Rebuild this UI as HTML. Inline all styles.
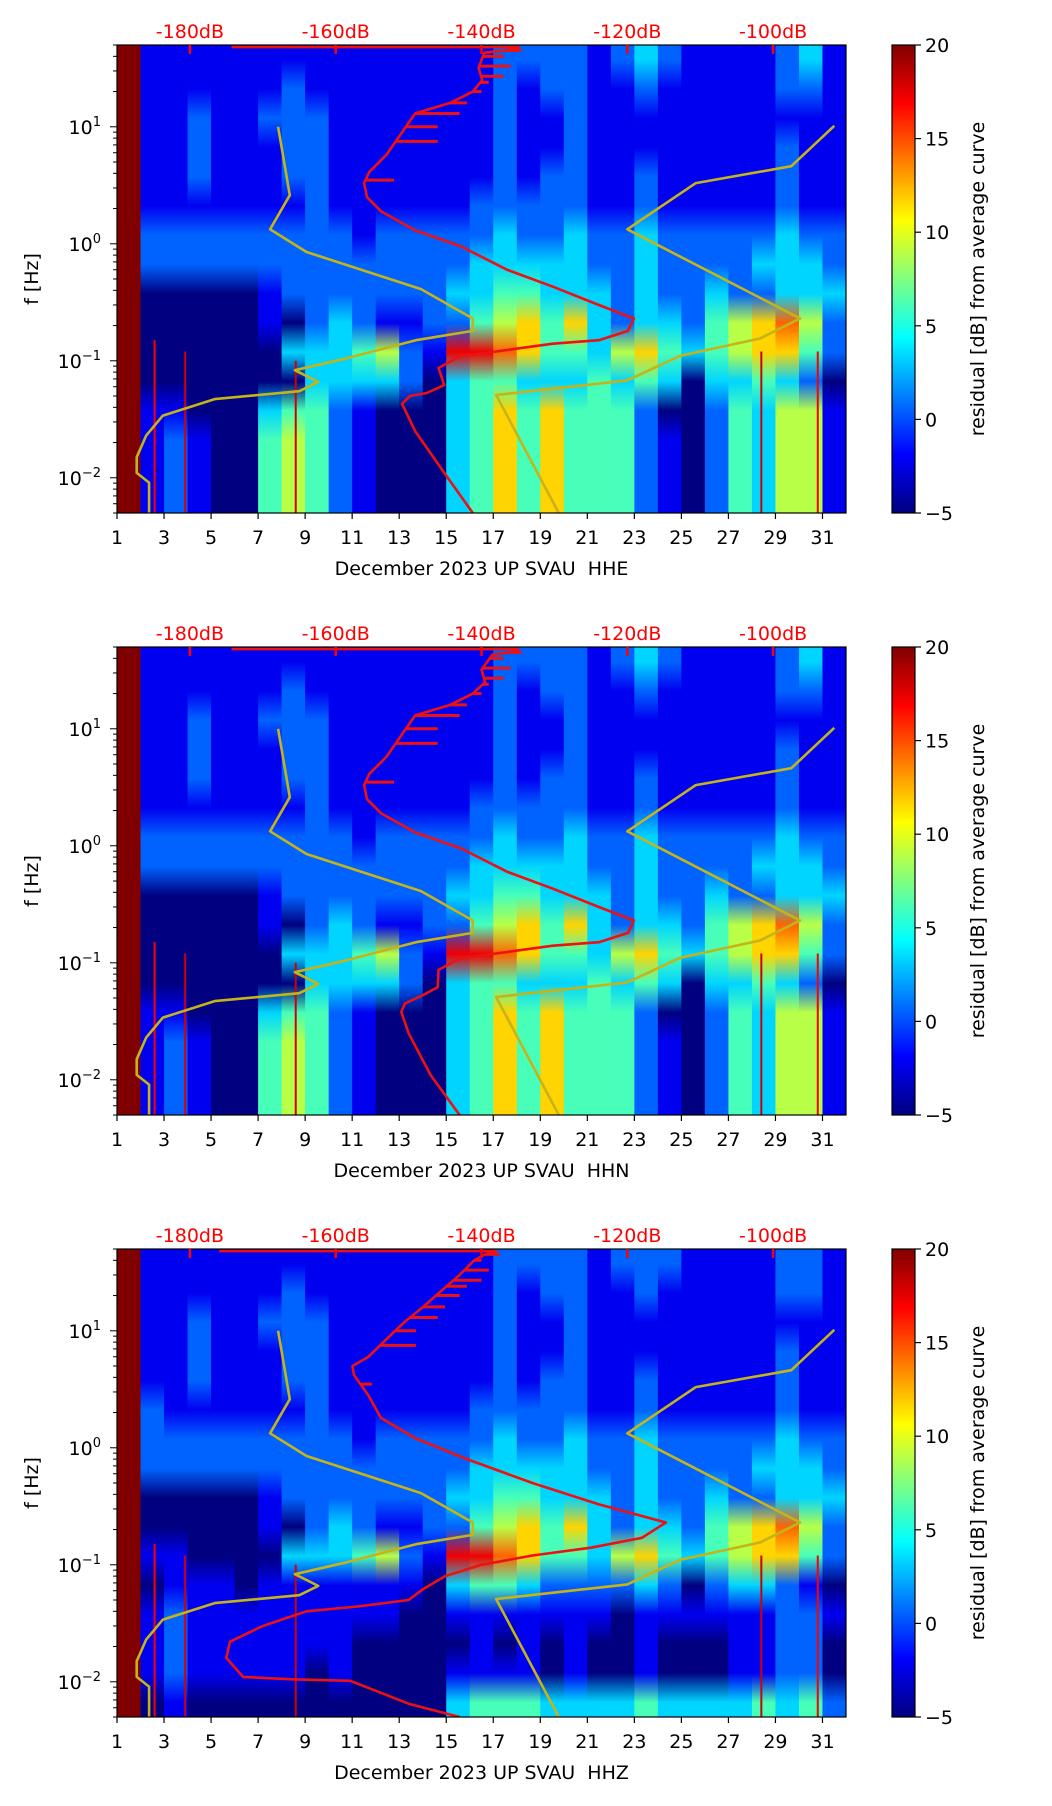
<!DOCTYPE html>
<html><head><meta charset="utf-8">
<style>
html,body{margin:0;padding:0;background:#fff;}
svg{display:block;font-family:"DejaVu Sans","Liberation Sans",sans-serif;}
</style></head>
<body>
<svg id="fig" width="1052" height="1806" viewBox="0 0 1052 1806" xmlns="http://www.w3.org/2000/svg">
<defs id="defs"></defs>
</svg>
<script>
// ---------------- DATA ----------------
const days = [1,3,5,7,9,11,13,15,17,19,21,23,25,27,29,31];
const dbTicks = [-180,-160,-140,-120,-100];
const cbTicks = [-5,0,5,10,15,20];
const yTickExp = [1,0,-1,-2];
const channels = ["HHE","HHN","HHZ"];

// residual grid rows (top = 50 Hz ... bottom = 0.005 Hz, 0.25 decade each), one value per day 1..31, digit 0..9 -> -5..20 dB
const gridHHE = [
"9 1 1 1 1 1 1 1 1 1 1 1 1 1 1 1 2 2 2 2 1 2 3 2 1 1 1 1 2 3 1",
"9 1 1 1 1 1 1 2 1 1 1 1 1 1 1 1 2 1 2 2 1 1 2 1 1 1 1 1 2 2 1",
"9 1 1 2 1 1 2 2 2 1 1 1 1 1 1 1 2 1 1 2 1 1 1 1 1 1 1 1 1 1 1",
"9 1 1 2 1 1 1 2 2 1 1 1 1 1 1 1 2 1 1 2 1 1 1 1 1 1 1 1 2 1 1",
"9 1 1 2 1 1 1 2 2 1 1 1 1 1 1 1 2 1 2 2 1 1 2 1 1 1 1 1 2 1 1",
"9 1 1 1 1 1 1 1 2 1 1 1 1 1 1 2 2 2 2 2 1 1 2 1 1 1 1 1 2 1 1",
"9 2 2 2 2 2 2 2 2 2 1 2 2 2 2 2 3 2 2 3 2 2 3 2 2 2 2 2 3 2 2",
"9 2 2 2 2 2 2 2 2 2 2 2 2 2 2 3 3 3 3 3 2 2 3 2 2 2 2 3 3 3 2",
"9 0 0 0 0 0 1 2 2 2 2 2 2 2 3 3 4 4 3 3 3 2 3 2 2 3 2 2 3 3 3",
"9 0 0 0 0 0 1 0 2 3 2 1 1 2 2 4 5 6 4 6 3 2 3 3 2 4 5 6 7 5 2",
"9 0 0 0 0 0 0 3 3 3 4 5 2 1 8 8 7 6 4 4 3 5 6 4 3 4 5 6 6 4 2",
"9 0 0 0 0 0 0 0 3 3 3 3 2 0 3 4 4 3 3 3 4 3 4 3 0 3 3 4 3 2 0",
"9 1 1 0 0 0 3 4 4 2 1 0 0 0 3 4 6 4 6 4 4 4 2 0 0 2 4 3 5 5 1",
"9 1 2 1 0 0 4 5 4 2 1 0 0 0 3 4 6 4 6 4 4 4 2 1 0 2 4 3 5 5 1",
"9 1 2 1 0 0 4 5 4 2 1 0 0 0 3 4 6 4 6 4 4 4 2 1 0 2 4 3 5 5 1",
"9 1 2 1 0 0 4 5 4 2 1 0 0 0 3 4 6 4 6 4 4 4 2 1 0 2 4 3 5 5 1"
];
const gridHHN = [
"9 1 1 1 1 1 1 1 1 1 1 1 1 1 1 1 2 2 2 2 1 2 3 2 1 1 1 1 2 3 1",
"9 1 1 1 1 1 1 2 1 1 1 1 1 1 1 1 2 1 2 2 1 1 2 1 1 1 1 1 2 2 1",
"9 1 1 2 1 1 2 2 2 1 1 1 1 1 1 1 2 1 1 2 1 1 1 1 1 1 1 1 1 1 1",
"9 1 1 2 1 1 1 2 2 1 1 1 1 1 1 1 2 1 1 2 1 1 1 1 1 1 1 1 2 1 1",
"9 1 1 2 1 1 1 2 2 1 1 1 1 1 1 1 2 1 2 2 1 1 2 1 1 1 1 1 2 1 1",
"9 1 1 1 1 1 1 1 2 1 1 1 1 1 1 2 2 2 2 2 1 1 2 1 1 1 1 1 2 1 1",
"9 2 2 2 2 2 2 2 2 2 1 2 2 2 2 2 3 2 2 3 2 2 3 2 2 2 2 2 3 2 2",
"9 2 2 2 2 2 2 2 2 2 2 2 2 2 2 3 3 3 3 3 2 2 3 2 2 2 2 3 3 3 2",
"9 0 0 0 0 0 1 2 2 2 2 2 2 2 3 3 4 4 3 3 3 2 3 2 2 3 2 2 3 3 3",
"9 0 0 0 0 0 1 0 2 3 2 1 1 2 2 4 5 6 4 6 3 2 3 3 2 4 5 6 7 5 2",
"9 0 0 0 0 0 0 3 3 3 4 5 2 1 8 8 7 6 4 4 3 5 6 4 3 4 5 6 6 4 2",
"9 0 0 0 0 0 0 0 3 3 3 3 2 0 3 4 4 3 3 3 4 3 4 3 0 3 3 4 3 2 0",
"9 1 1 0 0 0 3 4 4 2 1 0 0 0 3 4 6 4 6 4 4 4 2 0 0 2 4 3 5 5 1",
"9 1 2 1 0 0 4 5 4 2 1 0 0 0 3 4 6 4 6 4 4 4 2 1 0 2 4 3 5 5 1",
"9 1 2 1 0 0 4 5 4 2 1 0 0 0 3 4 6 4 6 4 4 4 2 1 0 2 4 3 5 5 1",
"9 1 2 1 0 0 4 5 4 2 1 0 0 0 3 4 6 4 6 4 4 4 2 1 0 2 4 3 5 5 1"
];
const gridHHZ = [
"9 1 1 1 1 1 1 1 1 1 1 1 1 1 1 1 2 2 2 2 1 2 2 2 1 1 1 1 2 2 1",
"9 1 1 1 1 1 1 2 1 1 1 1 1 1 1 1 2 1 2 2 1 1 2 1 1 1 1 1 2 2 1",
"9 1 1 2 1 1 2 2 2 1 1 1 1 1 1 1 2 1 1 2 1 1 1 1 1 1 1 1 1 1 1",
"9 1 1 2 1 1 1 2 2 1 1 1 1 1 1 1 2 1 1 2 1 1 1 1 1 1 1 1 2 1 1",
"9 1 1 2 1 1 1 2 2 1 1 1 1 1 1 1 2 1 2 2 1 1 2 1 1 1 1 1 2 1 1",
"9 2 1 1 1 1 1 1 2 1 1 1 1 1 1 2 2 2 2 2 1 1 2 1 1 1 1 1 2 1 1",
"9 2 2 2 2 2 2 2 2 2 1 2 2 2 2 2 3 2 2 3 2 2 3 2 2 2 2 2 3 2 2",
"9 2 2 2 2 2 2 2 2 2 2 2 2 2 2 3 3 3 3 3 2 2 3 2 2 2 2 3 3 3 2",
"9 0 0 0 0 0 1 2 2 2 2 2 2 2 3 3 4 4 3 3 3 2 3 2 2 3 2 2 3 3 3",
"9 0 0 0 0 0 1 0 2 3 2 1 1 2 2 4 5 6 4 6 3 2 3 3 2 4 5 6 7 5 2",
"9 1 1 0 0 0 0 3 3 3 4 5 2 1 8 8 7 6 4 4 3 5 6 4 3 4 5 6 6 4 2",
"9 0 1 1 1 0 1 1 1 1 1 1 1 0 3 4 4 3 2 2 2 2 3 2 0 2 3 3 2 1 0",
"9 1 2 1 1 1 1 1 1 1 1 1 0 0 1 1 1 1 1 1 1 0 1 1 1 1 1 1 2 2 1",
"9 1 2 1 1 1 1 1 1 1 0 0 0 0 0 1 0 1 0 1 0 0 1 0 0 0 1 1 2 2 0",
"9 1 2 1 1 1 1 1 0 1 0 0 0 0 1 1 1 1 0 1 0 0 1 0 0 0 1 1 2 2 0",
"9 0 1 0 0 0 0 0 0 0 0 0 0 0 3 4 4 4 3 3 3 3 4 3 3 3 3 4 3 4 2"
];
const grids = [gridHHE, gridHHN, gridHHZ];

// thin vertical event lines (day, upper freq Hz, residual dB)
const lineDays = [2.6, 3.9, 8.6, 28.4, 30.8];
const lineTopHz = [0.15, 0.12, 0.1, 0.12, 0.12];
const lineDb = [17, 18, 18, 18, 17];

// Noise models (yellow) : frequency [Hz] and PSD [dB]
const nlnmHz = [10, 2.6, 1.33, 0.85, 0.41, 0.23, 0.18, 0.15, 0.105, 0.083, 0.066, 0.055, 0.047, 0.034, 0.023, 0.015, 0.011, 0.0091, 0.005];
const nlnmDb = [-167.9, -166.3, -169, -164, -148.3, -141.2, -141.2, -149, -158.5, -165.6, -162.4, -165, -176.6, -183.7, -186, -187.3, -187.3, -185.6, -185.6];
const nhnmHz = [10.2, 4.6, 3.3, 1.33, 0.23, 0.155, 0.11, 0.068, 0.051, 0.005];
const nhnmDb = [-91.6, -97.5, -110.6, -120, -96.3, -101.8, -112.8, -120, -138, -129.4];

// average PSD curves (red)
const redHzE = [48, 48, 45, 43, 32, 25, 20, 16, 13, 8.1, 5.8, 4.1, 3.3, 2.5, 1.9, 1.3, 0.95, 0.6, 0.43, 0.30, 0.23, 0.18, 0.15, 0.14, 0.12, 0.11, 0.087, 0.062, 0.053, 0.050, 0.043, 0.025, 0.011, 0.005];
const redDbE = [-174.3, -134.9, -136.5, -139.6, -140.4, -139.9, -141.2, -144.3, -149.1, -151.4, -153, -155.4, -156.1, -155.7, -153.8, -149.1, -142.8, -136.5, -130.2, -123.9, -119.1, -119.9, -123.9, -130.2, -138, -142.8, -145.9, -145.1, -147.5, -149.8, -150.9, -149.1, -145.1, -141.2];
const redHzN = [48, 48, 45, 43, 32, 25, 20, 16, 13, 8.1, 5.8, 4.1, 3.3, 2.5, 1.9, 1.3, 0.95, 0.6, 0.43, 0.30, 0.23, 0.18, 0.15, 0.14, 0.12, 0.11, 0.087, 0.062, 0.053, 0.045, 0.038, 0.025, 0.011, 0.005];
const redDbN = [-174.3, -135, -136, -138.5, -140, -139.5, -141.2, -144.3, -149.1, -151.4, -153, -155.4, -156.1, -155.7, -153.8, -149.1, -142.8, -136.5, -130.2, -123.9, -119.1, -119.9, -123.9, -130.2, -138, -142.8, -145.9, -146, -148, -150.5, -151, -150, -147, -143];
const redHzZ = [48, 48, 45, 40, 30, 22, 16, 12, 8.5, 6, 5, 4.2, 2.8, 1.8, 1.2, 0.8, 0.5, 0.33, 0.23, 0.17, 0.14, 0.12, 0.1, 0.08, 0.062, 0.05, 0.044, 0.04, 0.03, 0.022, 0.016, 0.011, 0.0105, 0.0102, 0.0065, 0.005];
const redDbZ = [-176, -138, -139.5, -141, -143, -145.5, -148, -150.5, -153, -155.5, -157.7, -157.5, -155.5, -153.8, -149, -142, -133, -124, -114.7, -118, -125, -133, -140, -145, -148, -150, -157, -164, -170, -174.5, -175, -172.7, -166, -158, -150, -143];
const redCurvesHz = [redHzE, redHzN, redHzZ];
const redCurvesDb = [redDbE, redDbN, redDbZ];

// spiky teeth on the red curve (frequency Hz, extended dB)
const spikeHz = [45, 40, 33, 27, 24, 20, 16, 13, 10, 7.5, 3.5];
const spikeDb = [-134.5, -137, -136, -137, -139, -140, -142, -143, -146, -146, -152];

// ---------------- RENDER ----------------
const NS = "http://www.w3.org/2000/svg";
const svg = document.getElementById('fig');
const defs = document.getElementById('defs');
const X0 = 117, X1 = 846, PH = 468;
const tops = [45, 647, 1249];
const LOGTOP = Math.log10(50), LOGBOT = Math.log10(0.005);
const DBMIN = -190, DBMAX = -90;
function xDay(d){ return X0 + (d-1)/31*(X1-X0); }
function xDb(db){ return X0 + (db-DBMIN)/(DBMAX-DBMIN)*(X1-X0); }
function yF(top,f){ return top + (LOGTOP-Math.log10(f))/(LOGTOP-LOGBOT)*PH; }
function jet(t){
  t=Math.max(0,Math.min(1,t));
  const c=v=>Math.round(255*Math.max(0,Math.min(1,v)));
  return 'rgb('+c(1.5-Math.abs(4*t-3))+','+c(1.5-Math.abs(4*t-2))+','+c(1.5-Math.abs(4*t-1))+')';
}
function dbColor(v){ return jet((v+5)/25); }
function el(tag, attrs, parent){
  const e=document.createElementNS(NS,tag);
  for(const k in attrs) e.setAttribute(k,attrs[k]);
  (parent||svg).appendChild(e); return e;
}
function txt(x,y,s,size,anchor,fill,parent){
  const t=el('text',{x:x,y:y,'font-size':size,'text-anchor':anchor||'middle',fill:fill||'#000'},parent);
  t.textContent=s; return t;
}

channels.forEach((ch,pi)=>{
  const top=tops[pi], bot=top+PH;
  const g=el('g',{});
  
  
  const clipId='clip'+pi;
  const cp=el('clipPath',{id:clipId},defs);
  el('rect',{x:X0,y:top,width:X1-X0,height:PH},cp);
  const hm=el('g',{'clip-path':'url(#'+clipId+')'},g);
  
  
  const rows=grids[pi].map(r=>r.trim().split(/\s+/).map(Number));
  const nR=rows.length;
  for(let c=0;c<31;c++){
    const gid='g'+pi+'_'+c;
    const lg=el('linearGradient',{id:gid,x1:0,y1:0,x2:0,y2:1},defs);
    for(let r=0;r<nR;r++){
      const v=-5+(rows[r][c]||0)*25/9;
      el('stop',{offset:((r+0.5)/nR).toFixed(4),'stop-color':dbColor(v)},lg);
    }
    const rc=el('rect',{x:xDay(c+1),y:top,width:(X1-X0)/31+0.6,height:PH,fill:'url(#'+gid+')'},hm);
    
    
  }
  lineDays.forEach((d,i)=>{
    const ln=el('line',{x1:xDay(d),x2:xDay(d),y1:yF(top,lineTopHz[i]),y2:bot,stroke:dbColor(lineDb[i]),'stroke-width':2},hm);
    
    
  });
  const pl=(hz,db)=>hz.map((f,i)=>xDb(db[i]).toFixed(1)+','+yF(top,f).toFixed(1)).join(' ');
  const nl=el('polyline',{points:pl(nlnmHz,nlnmDb),fill:'none',stroke:'#c4b41a','stroke-width':2.6,'stroke-linejoin':'round'},hm);
  
  
  const nh=el('polyline',{points:pl(nhnmHz,nhnmDb),fill:'none',stroke:'#c4b41a','stroke-width':2.6,'stroke-linejoin':'round'},hm);
  
  
  const rd=el('polyline',{points:pl(redCurvesHz[pi],redCurvesDb[pi]),fill:'none',stroke:'#ee1111','stroke-width':2.6,'stroke-linejoin':'round'},hm);
  
  
  spikeHz.forEach((f,i)=>{
    const hz=redCurvesHz[pi], db=redCurvesDb[pi];
    let base=db[2];
    for(let k=2;k<hz.length-1;k++){ if(hz[k]>=f && hz[k+1]<=f){ const t=(Math.log(hz[k])-Math.log(f))/(Math.log(hz[k])-Math.log(hz[k+1])); base=db[k]+(db[k+1]-db[k])*t; break; } }
    const sp=el('line',{x1:xDb(base),x2:xDb(spikeDb[i]+(pi===2?-3:0)),y1:yF(top,f),y2:yF(top,f),stroke:'#ee1111','stroke-width':3},hm);
    
    
  });
  const fr=el('rect',{x:X0,y:top,width:X1-X0,height:PH,fill:'none',stroke:'#000','stroke-width':1.2},g);
  
  
  days.forEach(d=>{
    el('line',{x1:xDay(d),x2:xDay(d),y1:bot,y2:bot+6,stroke:'#000','stroke-width':1.2},g);
    const t=txt(xDay(d),bot+31,String(d),19,'middle','#000',g);
    
    
  });
  const xl=txt((X0+X1)/2,bot+62,'December 2023 UP SVAU\u00a0 '+ch,19,'middle','#000',g);
  
  
  dbTicks.forEach(db=>{
    el('line',{x1:xDb(db),x2:xDb(db),y1:top,y2:top+9,stroke:'#ff0000','stroke-width':2.5},g);
    const t=txt(xDb(db),top-7,db+'dB',19,'middle','#ff0000',g);
    
    
  });
  for(let e=-3;e<=1;e++){
    for(let m=1;m<=9;m++){
      const f=m*Math.pow(10,e);
      if(f<0.005||f>50) continue;
      const y=yF(top,f);
      el('line',{x1:X0-(m===1?7:4),x2:X0,y1:y,y2:y,stroke:'#000','stroke-width':1},g);
    }
  }
  yTickExp.forEach(e=>{
    const y=yF(top,Math.pow(10,e));
    const t=el('text',{x:101,y:y+7,'font-size':19,'text-anchor':'end'},g);
    
    
    const a=document.createElementNS(NS,'tspan'); a.textContent='10'; t.appendChild(a);
    const b=document.createElementNS(NS,'tspan'); b.setAttribute('dy','-8'); b.setAttribute('font-size','13'); b.textContent=(e<0?'\u2212'+(-e):String(e)); t.appendChild(b);
  });
  const yl=txt(0,0,'f [Hz]',19,'middle','#000',g);
  yl.setAttribute('transform','translate(38,'+(top+PH/2)+') rotate(-90)');
  
  
  const cb=el('g',{},g);
  
  
  const cgid='cb'+pi;
  const cg=el('linearGradient',{id:cgid,x1:0,y1:1,x2:0,y2:0},defs);
  for(let i=0;i<=40;i++) el('stop',{offset:(i/40).toFixed(3),'stop-color':jet(i/40)},cg);
  el('rect',{x:892,y:top,width:23,height:PH,fill:'url(#'+cgid+')',stroke:'#000','stroke-width':1.2},cb);
  cbTicks.forEach(v=>{
    const y=top+(20-v)/25*PH;
    el('line',{x1:915,x2:921,y1:y,y2:y,stroke:'#000','stroke-width':1.2},cb);
    const t=txt(925,y+7,(v<0?'\u2212'+(-v):String(v)),19,'start','#000',cb);
    
    
  });
  const cl=txt(0,0,'residual [dB] from average curve',19,'middle','#000',cb);
  cl.setAttribute('transform','translate(984,'+(top+PH/2)+') rotate(-90)');
  
  
});
</script>
</body></html>
